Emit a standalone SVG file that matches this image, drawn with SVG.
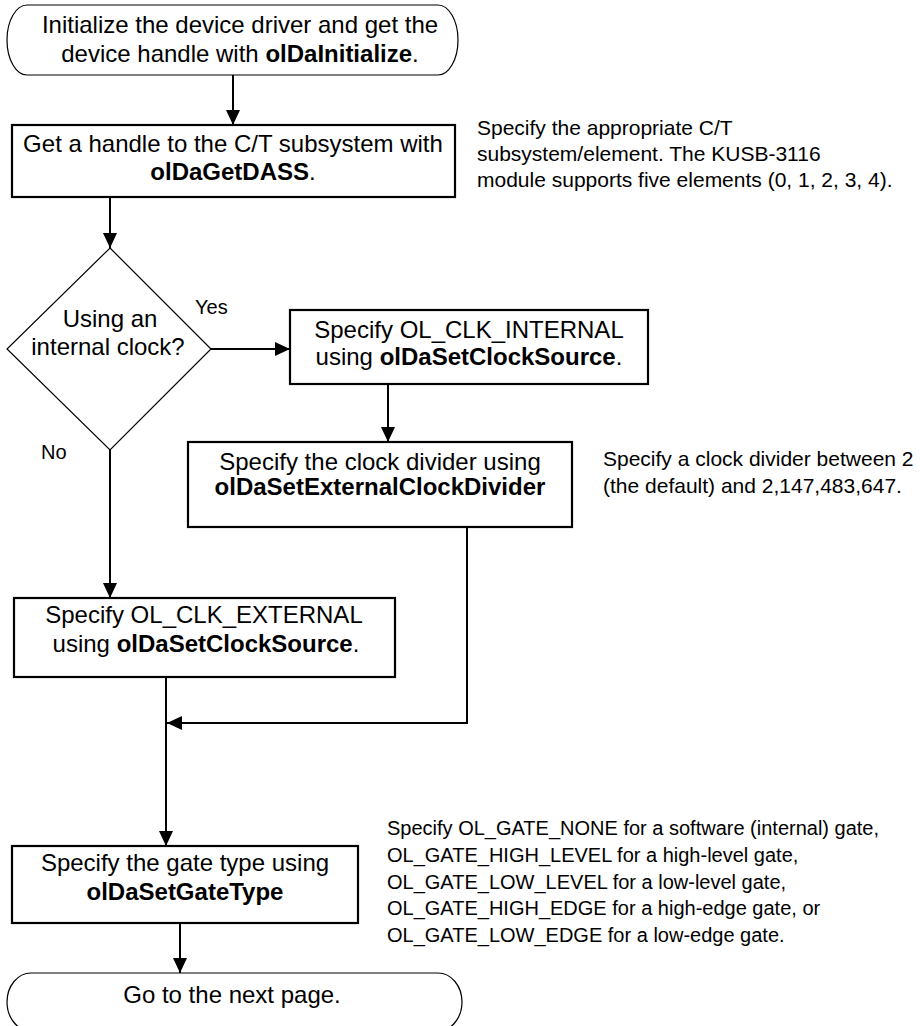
<svg xmlns="http://www.w3.org/2000/svg" width="920" height="1026" viewBox="0 0 920 1026">
<defs>
<style>
text{font-family:"Liberation Sans",Arial,Helvetica,sans-serif;fill:#000;}
.t{font-size:24px;text-anchor:middle;}
.b{font-weight:bold;}
.lbl{font-size:20px;}
.note{font-size:21px;}
.gnote{font-size:20px;}
.box{fill:#fff;stroke:#000;stroke-width:2.2;}
.thin{fill:#fff;stroke:#000;stroke-width:1.2;}
.c{fill:none;stroke:#000;stroke-width:2;}
</style>
<marker id="ah" viewBox="0 0 15 14" refX="15" refY="7" markerWidth="15" markerHeight="14" markerUnits="userSpaceOnUse" orient="auto">
<path d="M0,0 L15,7 L0,14 z" fill="#000"/>
</marker>
</defs>
<rect width="920" height="1026" fill="#fff"/>

<g id="connectors">
<line class="c" x1="233" y1="75" x2="233" y2="125" marker-end="url(#ah)"/>
<line class="c" x1="110" y1="197" x2="110" y2="248" marker-end="url(#ah)"/>
<line class="c" x1="211" y1="349" x2="290" y2="349" marker-end="url(#ah)"/>
<line class="c" x1="388" y1="384" x2="388" y2="442" marker-end="url(#ah)"/>
<line class="c" x1="110" y1="450" x2="110" y2="598" marker-end="url(#ah)"/>
<polyline class="c" points="467,527 467,723 167,723" marker-end="url(#ah)"/>
<line class="c" x1="166" y1="677" x2="166" y2="846" marker-end="url(#ah)"/>
<line class="c" x1="180" y1="923" x2="180" y2="973" marker-end="url(#ah)"/>
</g>

<g id="start">
<rect class="thin" x="7" y="5" width="451" height="70" rx="20" ry="35"/>
<text class="t" x="240" y="33">Initialize the device driver and get the</text>
<text class="t" x="240" y="62">device handle with <tspan class="b">olDaInitialize</tspan>.</text>
</g>

<g id="getdass">
<rect class="box" x="12" y="125" width="443" height="72"/>
<text class="t" x="233" y="152">Get a handle to the C/T subsystem with</text>
<text class="t" x="233" y="180"><tspan class="b">olDaGetDASS</tspan>.</text>
</g>

<g id="note-ct">
<text class="note" x="477" y="135">Specify the appropriate C/T</text>
<text class="note" x="477" y="161">subsystem/element. The KUSB-3116</text>
<text class="note" x="477" y="187">module supports five elements (0, 1, 2, 3, 4).</text>
</g>

<g id="decision">
<polygon class="thin" points="110,248 211,349 110,450 7,349"/>
<text class="t" x="110" y="327">Using an</text>
<text class="t" x="108" y="355">internal clock?</text>
</g>

<g id="labels">
<text class="lbl" x="195" y="314">Yes</text>
<text class="lbl" x="41" y="459">No</text>
</g>

<g id="internal">
<rect class="box" x="290" y="310" width="358" height="74"/>
<text class="t" x="469" y="338">Specify OL_CLK_INTERNAL</text>
<text class="t" x="469" y="365">using <tspan class="b">olDaSetClockSource</tspan>.</text>
</g>

<g id="divider">
<rect class="box" x="188" y="442" width="384" height="85"/>
<text class="t" x="380" y="470">Specify the clock divider using</text>
<text class="t b" x="380" y="495">olDaSetExternalClockDivider</text>
</g>

<g id="note-divider">
<text class="note" x="603" y="466">Specify a clock divider between 2</text>
<text class="note" x="603" y="493">(the default) and 2,147,483,647.</text>
</g>

<g id="external">
<rect class="box" x="14" y="598" width="381" height="79"/>
<text class="t" x="204" y="623">Specify OL_CLK_EXTERNAL</text>
<text class="t" x="206" y="652">using <tspan class="b">olDaSetClockSource</tspan>.</text>
</g>

<g id="gate">
<rect class="box" x="12" y="846" width="346" height="77"/>
<text class="t" x="185" y="871">Specify the gate type using</text>
<text class="t b" x="185" y="900">olDaSetGateType</text>
</g>

<g id="note-gate">
<text class="gnote" x="387" y="835">Specify OL_GATE_NONE for a software (internal) gate,</text>
<text class="gnote" x="387" y="862">OL_GATE_HIGH_LEVEL for a high-level gate,</text>
<text class="gnote" x="387" y="889">OL_GATE_LOW_LEVEL for a low-level gate,</text>
<text class="gnote" x="387" y="915">OL_GATE_HIGH_EDGE for a high-edge gate, or</text>
<text class="gnote" x="387" y="942">OL_GATE_LOW_EDGE for a low-edge gate.</text>
</g>

<g id="end">
<rect class="thin" x="7" y="973" width="455" height="58" rx="24" ry="29"/>
<text class="t" x="232" y="1003">Go to the next page.</text>
</g>
</svg>
